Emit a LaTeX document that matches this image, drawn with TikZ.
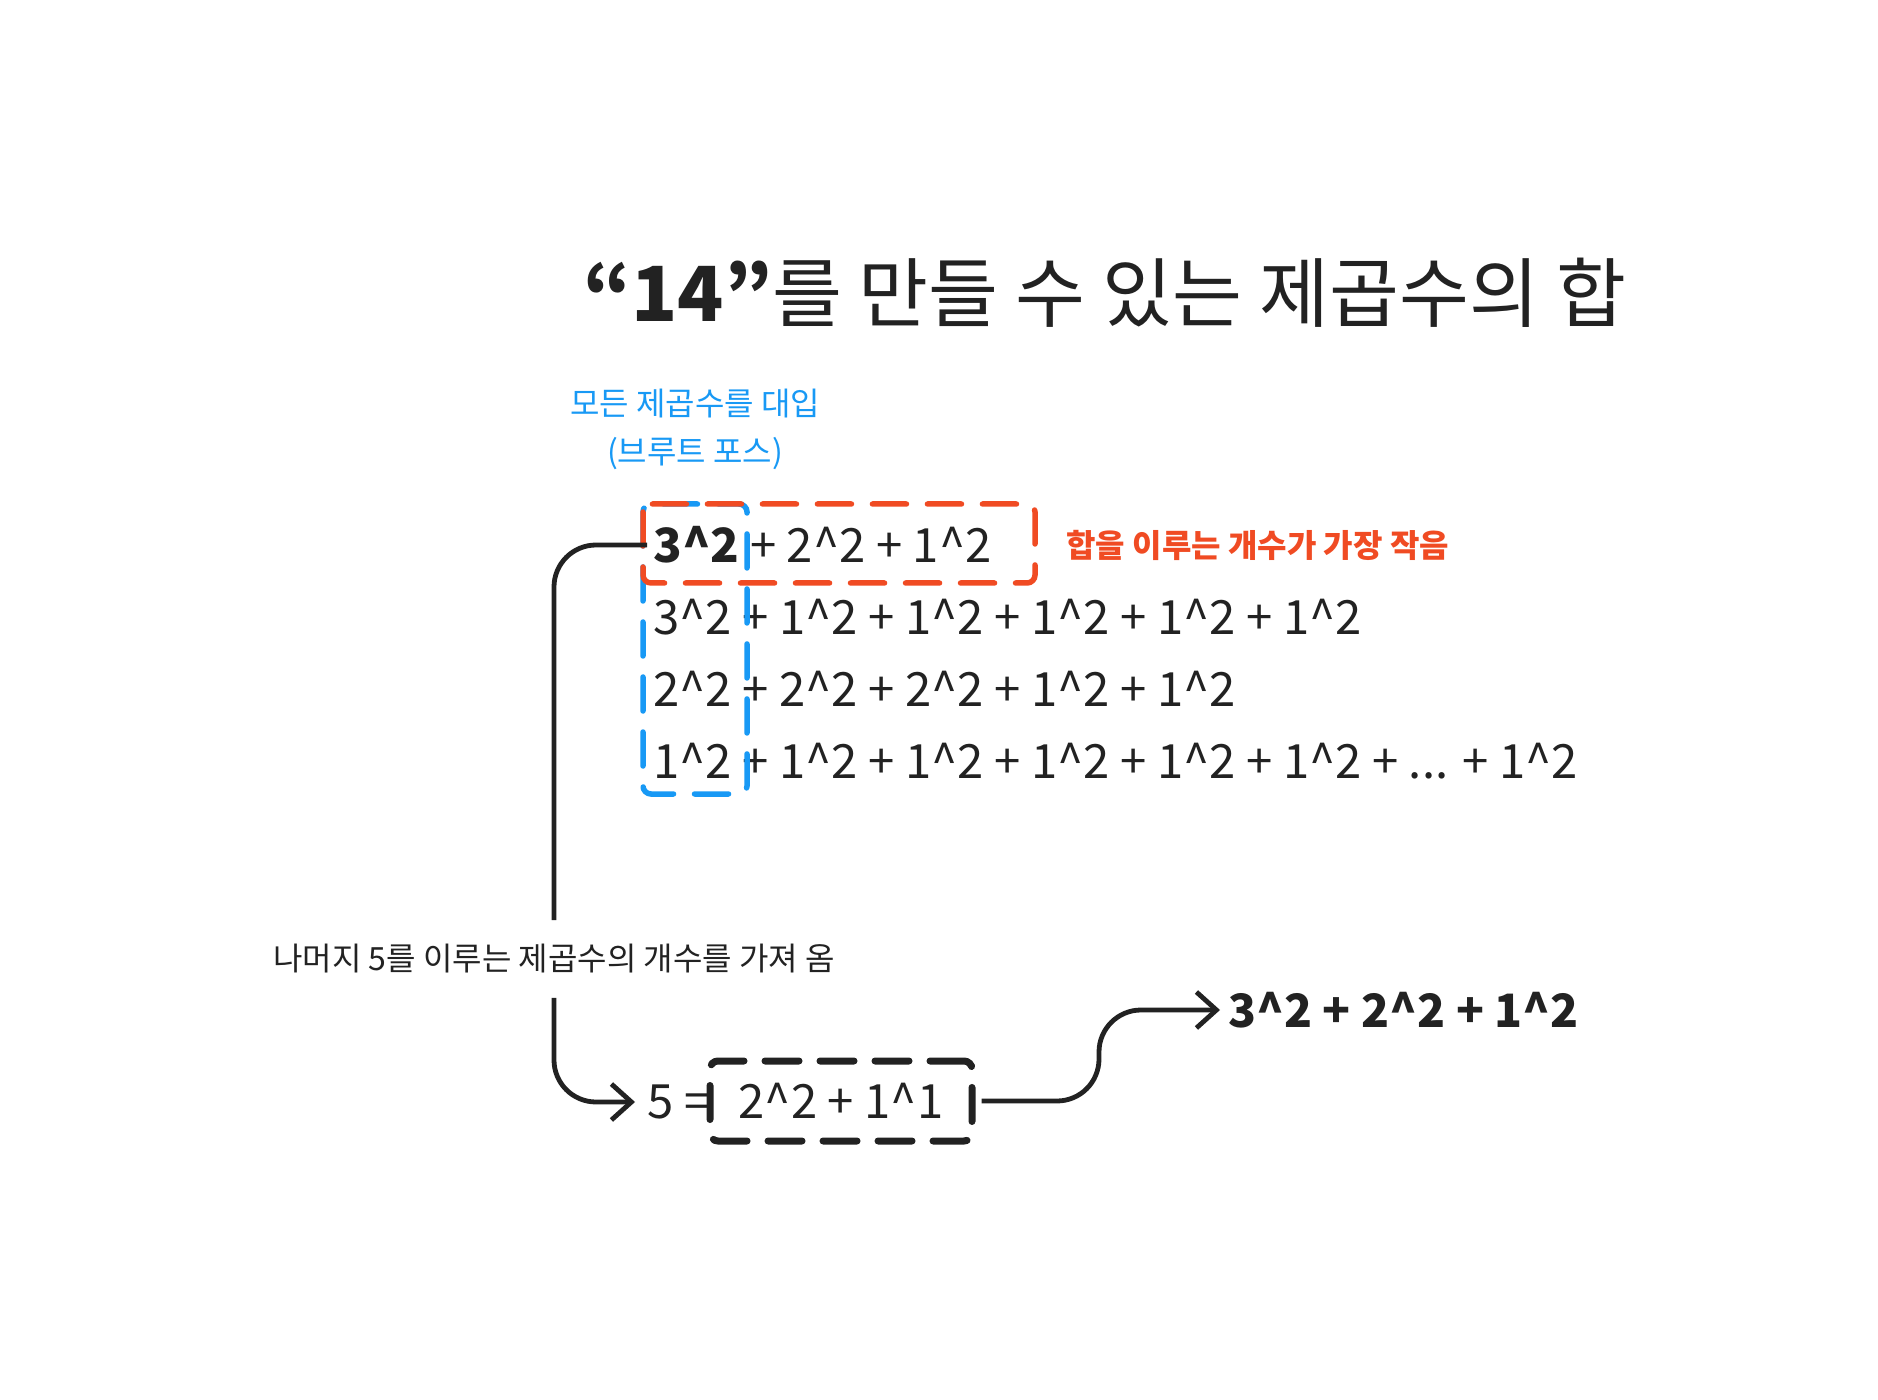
\documentclass[tikz,border=0pt]{standalone}
\usepackage{fontspec}
\setmainfont{Noto Sans CJK KR}
\usetikzlibrary{arrows.meta}
\definecolor{ink}{HTML}{222222}
\definecolor{brute}{HTML}{1899F5}
\definecolor{best}{HTML}{F04B23}
\newcommand\pw{\textasciicircum}

\begin{document}
\begin{tikzpicture}[x=0.5pt,y=-0.5pt,
  every node/.style={inner sep=0pt, text=ink},
  eq/.style={anchor=west, font=\fontsize{23.6}{28}\selectfont},
  note/.style={font=\fontsize{16}{24}\selectfont},
  dashbox/.style={line width=2.75pt, rounded corners=4pt, line cap=round, dash pattern=on 17pt off 10.5pt},
  link/.style={draw=ink, line width=2.4pt, rounded corners=21pt, line join=round, -{Straight Barb[length=10pt,width=18pt]}}]
\useasboundingbox[fill=white] (0,0) rectangle (1878,1400);

% title
\node[font=\fontsize{38}{44}\selectfont] (title) at (1105,293) {\textbf{“14”}를 만들 수 있는 제곱수의 합};

% all squares tried
\node[note, text=brute, align=center] (force) at (695,429) {모든 제곱수를 대입\\(브루트 포스)};
\node[eq] (r1) at (653,545) {\textbf{3\pw2} + 2\pw2 + 1\pw2};
\node[eq] (r2) at (653,617) {3\pw2 + 1\pw2 + 1\pw2 + 1\pw2 + 1\pw2 + 1\pw2};
\node[eq] (r3) at (653,689) {2\pw2 + 2\pw2 + 2\pw2 + 1\pw2 + 1\pw2};
\node[eq] (r4) at (653,761) {1\pw2 + 1\pw2 + 1\pw2 + 1\pw2 + 1\pw2 + 1\pw2 + ... + 1\pw2};
\draw[dashbox, brute] (643,504) rectangle (747,794);
\draw[dashbox, best] (643,504) rectangle (1035,583);
\node[note, anchor=west, text=best, font=\fontsize{16}{24}\selectfont\bfseries] (least) at (1066,545) {합을 이루는 개수가 가장 작음};

% remainder
\node[note, inner ysep=12pt] (rest) at (554,959) {나머지 5를 이루는 제곱수의 개수를 가져 옴};
\node[eq] (five) at (647,1102) {5 =};
\node[eq, anchor=center, draw=ink, dashbox, line width=3.5pt, minimum width=131pt, minimum height=40pt] (sub) at (841,1101) {2\pw2 + 1\pw1\hspace{14pt}};
\node[eq, font=\fontsize{23}{28}\selectfont\bfseries] (result) at (1228,1010) {3\pw2 + 2\pw2 + 1\pw2};
\coordinate (bend) at (1099,1010);

\draw[link, -] (r1.west) ++(-6,0) -| (rest.north);
\draw[link, shorten >=6pt] (rest.south) |- (five.west);
\draw[link, shorten <=3pt, shorten >=4pt] (sub.east) -| (bend) -- (result.west);
\end{tikzpicture}
\end{document}
